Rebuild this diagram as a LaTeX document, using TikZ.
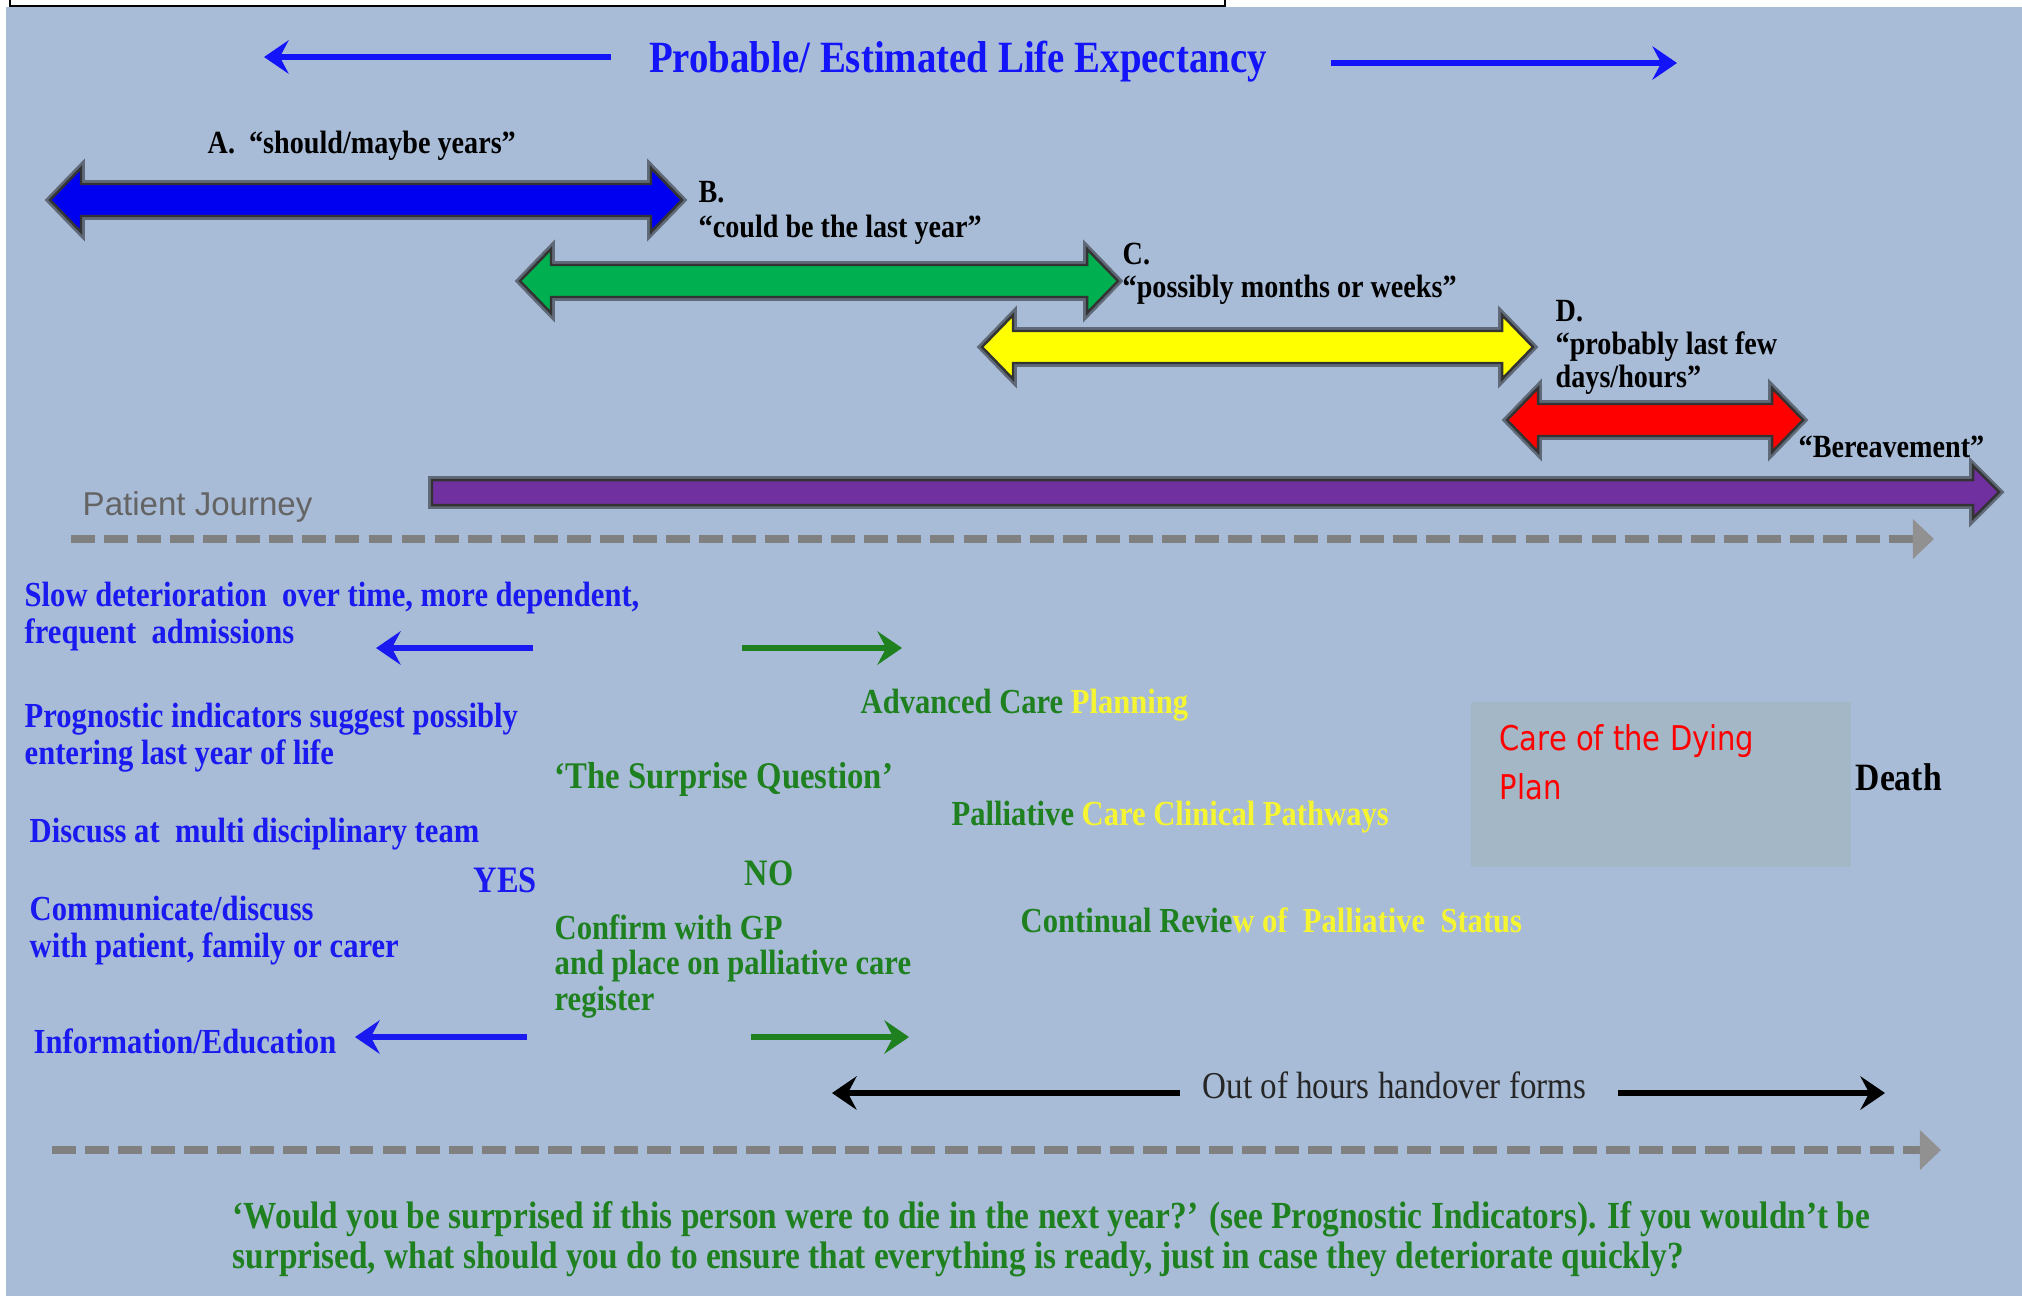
\documentclass[tikz,border=0pt]{standalone}
\usepackage{fontspec}
\setmainfont{Liberation Serif}[FakeStretch=0.87]
\newfontfamily\journeyfont{Liberation Sans}
\newfontfamily\dyingfont{DejaVu Sans}[FakeStretch=0.85]
\usetikzlibrary{arrows.meta}

\definecolor{panelbg}{RGB}{168,188,215}
\definecolor{dyingbg}{RGB}{163,183,199}
\definecolor{titleblue}{RGB}{20,20,250}
\definecolor{lineblue}{RGB}{25,25,240}
\definecolor{textgreen}{RGB}{30,128,30}
\definecolor{textyellow}{RGB}{245,245,50}
\definecolor{arrblue}{RGB}{0,0,240}
\definecolor{arrgreen}{RGB}{0,176,80}
\definecolor{arryellow}{RGB}{255,255,0}
\definecolor{arrred}{RGB}{255,0,0}
\definecolor{arrpurple}{RGB}{112,48,160}
\definecolor{shadowgray}{RGB}{95,105,120}
\definecolor{dashgray}{RGB}{128,128,128}
\definecolor{tipgray}{RGB}{145,145,145}
\definecolor{journeygray}{RGB}{100,100,100}

\newcommand{\lifespan}[4]{%
  \draw[spanshadow] (#1,#3) -- (#1+31,#3-32) -- (#1+31,#3-16) -- (#2-31,#3-16) -- (#2-31,#3-32) -- (#2,#3)
    -- (#2-31,#3+32) -- (#2-31,#3+16) -- (#1+31,#3+16) -- (#1+31,#3+32) -- cycle;
  \filldraw[spanedge,fill=#4] (#1,#3) -- (#1+31,#3-32) -- (#1+31,#3-16) -- (#2-31,#3-16) -- (#2-31,#3-32) -- (#2,#3)
    -- (#2-31,#3+32) -- (#2-31,#3+16) -- (#1+31,#3+16) -- (#1+31,#3+32) -- cycle;
}

\begin{document}
\begin{tikzpicture}[x=0.01cm,y=-0.01cm,
	every node/.style={inner sep=0pt,anchor=base west},
	titletext/.style={text=titleblue,font=\fontsize{12.7}{15}\selectfont\bfseries,anchor=base},
	spanlabel/.style={align=left,font=\fontsize{9.2}{9.3}\selectfont\bfseries},
	stepblue/.style={text=lineblue,align=left,font=\fontsize{10}{10.5}\selectfont\bfseries},
	stepgreen/.style={text=textgreen,align=left,font=\fontsize{10}{10}\selectfont\bfseries},
	answer/.style={font=\fontsize{10.6}{12}\selectfont\bfseries},
	flowarrow/.style={-{Stealth[length=7pt,width=9.5pt,inset=2.5pt]},line width=1.8pt},
	journey/.style={dashgray,line width=2.3pt,dash pattern=on 6.8pt off 2.6pt,-{Triangle[length=6pt,width=11pt,color=tipgray]}},
	spanshadow/.style={draw=shadowgray,line width=2.2pt,line join=miter},
	spanedge/.style={draw=black!80,line width=0.7pt,line join=miter}]

	\useasboundingbox (0,0) rectangle (2022,1296);
	\fill[panelbg] (6,7) rectangle (2022,1296);
	\draw[line width=0.8pt] (10,-5) |- (1225,6) -- (1225,-5);

	\node[titletext] (title) at (958,72) {Probable/ Estimated Life Expectancy};
	\coordinate (lifeL) at (264,57);
	\coordinate (lifeLt) at (611,57);
	\coordinate (lifeRt) at (1331,63);
	\coordinate (lifeR) at (1677,63);
	\draw[flowarrow,titleblue] (lifeLt) -- (lifeL);
	\draw[flowarrow,titleblue] (lifeRt) -- (lifeR);

	\lifespan{50}{682}{200}{arrblue}
	\lifespan{520}{1118}{281}{arrgreen}
	\lifespan{982}{1533}{347}{arryellow}
	\lifespan{1507}{1803}{420}{arrred}
	\draw[spanshadow] (432,480) -- (1973,480) -- (1973,466) -- (1999,492) -- (1973,518) -- (1973,505) -- (432,505) -- cycle;
	\filldraw[spanedge,fill=arrpurple] (432,480) -- (1973,480) -- (1973,466) -- (1999,492) -- (1973,518) -- (1973,505) -- (432,505) -- cycle;

	\node[spanlabel] (A) at (207,153) {A.\ \ “should/maybe years”};
	\node[spanlabel] (B) at (698,237) {B.\\[0.5pt]“could be the last year”};
	\node[spanlabel] (C) at (1122,297) {C.\\“possibly months or weeks”};
	\node[spanlabel] (D) at (1555,387) {D.\\“probably last few\\days/hours”};
	\node[spanlabel] (bereave) at (1798,457) {“Bereavement”};

	\node[text=journeygray,font=\journeyfont\fontsize{9.4}{11}\selectfont] (journey) at (82,515) {Patient Journey};
	\coordinate (dash1s) at (71,539);
	\coordinate (dash1e) at (1934,539);
	\draw[journey] (dash1s) -- (dash1e);

	\node[stepblue] (slow) at (24,643) {Slow deterioration\ \ over time, more dependent,\\frequent\ \ admissions};
	\node[stepblue] (prog) at (24,764) {Prognostic indicators suggest possibly\\entering last year of life};
	\node[stepblue] (mdt) at (29,842) {Discuss at\ \ multi disciplinary team};
	\node[stepblue,answer] (yes) at (473,892) {YES};
	\node[stepblue] (comm) at (29,957) {Communicate/discuss\\with patient, family or carer};
	\node[stepblue] (info) at (33,1053) {Information/Education};

	\coordinate (blue1t) at (533,648);
	\coordinate (blue1h) at (376,648);
	\coordinate (green1t) at (742,648);
	\coordinate (green1h) at (902,648);
	\coordinate (blue2t) at (527,1037);
	\coordinate (blue2h) at (355,1037);
	\coordinate (green2t) at (751,1037);
	\coordinate (green2h) at (909,1037);
	\draw[flowarrow,lineblue] (blue1t) -- (blue1h);
	\draw[flowarrow,textgreen] (green1t) -- (green1h);
	\draw[flowarrow,lineblue] (blue2t) -- (blue2h);
	\draw[flowarrow,textgreen] (green2t) -- (green2h);

	\node[stepgreen,font=\fontsize{10.7}{10.7}\selectfont\bfseries] (surprise) at (554,788) {‘The Surprise Question’};
	\node[stepgreen,answer] (no) at (744,885) {NO};
	\node[stepgreen] (gp) at (554,1010) {Confirm with GP\\and place on palliative care\\register};

	\node[stepgreen] (acp) at (860,713) {Advanced Care \textcolor{textyellow}{Planning}};
	\node[stepgreen] (pathways) at (951,825) {Palliative \textcolor{textyellow}{Care Clinical Pathways}};
	\node[stepgreen] (review) at (1020,932) {Continual Revie\textcolor{textyellow}{w of\ \ Palliative\ \ Status}};

	\fill[dyingbg] (1471,702) rectangle (1851,867);
	\node[text=red,align=left,font=\dyingfont\fontsize{9.7}{13.9}\selectfont] (dying) at (1499,799) {Care of the Dying\\Plan};
	\node[font=\fontsize{11}{12}\selectfont\bfseries] (death) at (1855,790) {Death};

	\node[text=black!85,font=\fontsize{10.8}{12}\selectfont] (ooh) at (1202,1098) {Out of hours handover forms};
	\coordinate (oohLt) at (1180,1093);
	\coordinate (oohL) at (832,1093);
	\coordinate (oohRt) at (1618,1093);
	\coordinate (oohR) at (1885,1093);
	\draw[flowarrow,black] (oohLt) -- (oohL);
	\draw[flowarrow,black] (oohRt) -- (oohR);

	\coordinate (dash2s) at (52,1150);
	\coordinate (dash2e) at (1941,1150);
	\draw[journey] (dash2s) -- (dash2e);

	\node[stepgreen,font=\fontsize{10.9}{11.2}\selectfont\bfseries] (question) at (232,1268) {‘Would you be surprised if this person were to die in the next year?’ (see Prognostic Indicators). If you wouldn’t be\\surprised, what should you do to ensure that everything is ready, just in case they deteriorate quickly?};

\end{tikzpicture}
\end{document}
